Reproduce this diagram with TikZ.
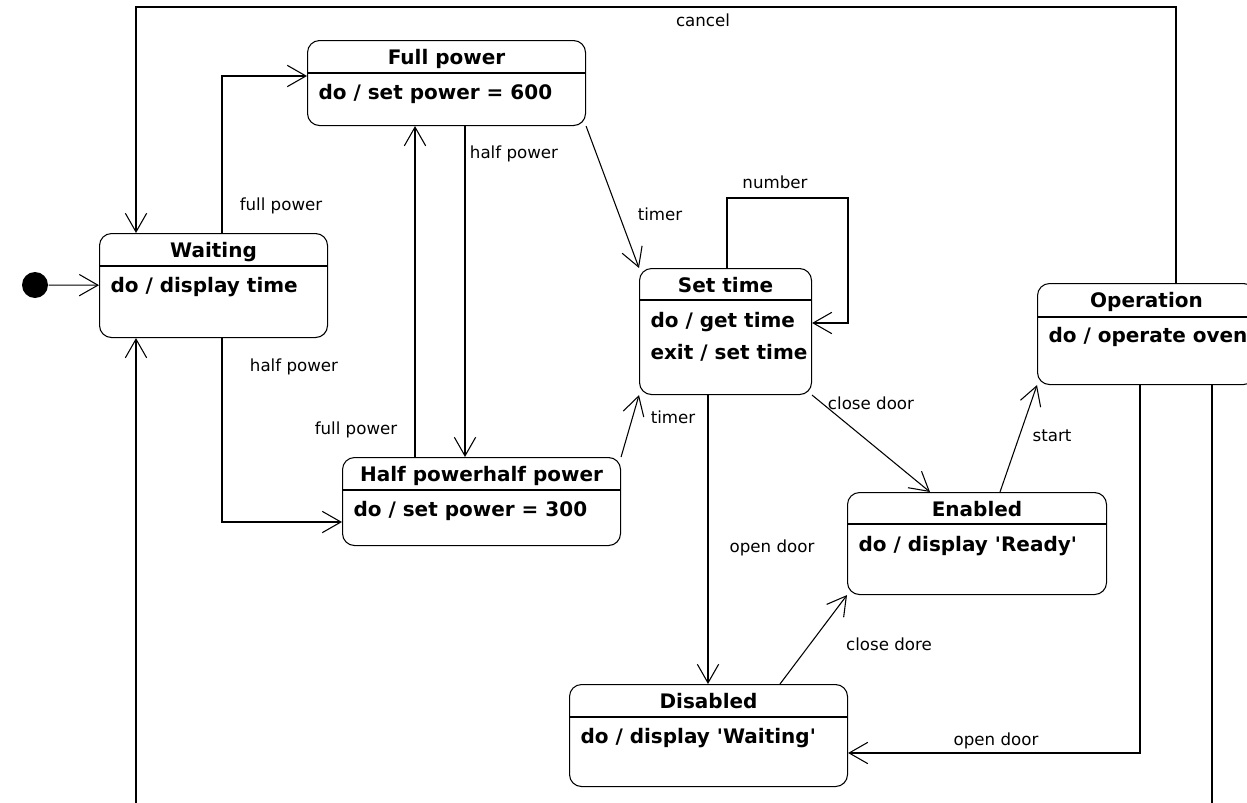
\documentclass[tikz,border=0pt]{standalone}
\usepackage{fontspec}
\setmainfont{DejaVu Sans}
\usetikzlibrary{arrows.meta, positioning}

\tikzset{
  state/.style={draw, rounded corners=9pt, anchor=north west, inner sep=0pt},
  ttl/.style={font=\fontsize{15}{18}\selectfont\bfseries, anchor=base, inner sep=0pt},
  act/.style={font=\fontsize{15}{18}\selectfont\bfseries, anchor=base west, inner sep=0pt},
  lbl/.style={font=\fontsize{12.5}{15}\selectfont, inner sep=0pt},
  tr/.style={-{Straight Barb[length=14pt,width=16pt]}},
}

\begin{document}
\begin{tikzpicture}[x=0.75pt, y=-0.75pt, line width=0.8pt]
\useasboundingbox (0,0) rectangle (1247,803);

% states
\node[state, minimum width=171pt, minimum height=78pt] (wait) at (99,233) {};
\node[ttl] (wait-t) at ([yshift=-18pt]wait.north) {Waiting};
\draw ([yshift=-24.75pt]wait.north west) -- ([yshift=-24.75pt]wait.north east);
\node[act] (wait-b) at ([xshift=8.25pt,yshift=-44.25pt]wait.north west) {do / display time};

\node[state, minimum width=208.5pt, minimum height=63.75pt] (full) at (307,40) {};
\node[ttl] (full-t) at ([yshift=-18pt]full.north) {Full power};
\draw ([yshift=-24.75pt]full.north west) -- ([yshift=-24.75pt]full.north east);
\node[act] (full-b) at ([xshift=8.25pt,yshift=-44.25pt]full.north west) {do / set power = 600};

\node[state, minimum width=208.5pt, minimum height=66pt] (half) at (342,457) {};
\node[ttl] (half-t) at ([yshift=-18pt]half.north) {Half powerhalf power};
\draw ([yshift=-24.75pt]half.north west) -- ([yshift=-24.75pt]half.north east);
\node[act] (half-b) at ([xshift=8.25pt,yshift=-44.25pt]half.north west) {do / set power = 300};

\node[state, minimum width=129pt, minimum height=94.5pt] (set) at (639,268) {};
\node[ttl] (set-t) at ([yshift=-18pt]set.north) {Set time};
\draw ([yshift=-24pt]set.north west) -- ([yshift=-24pt]set.north east);
\node[act] (set-b1) at ([xshift=8.25pt,yshift=-44.25pt]set.north west) {do / get time};
\node[act] (set-b2) at ([xshift=8.25pt,yshift=-68.25pt]set.north west) {exit / set time};

\node[state, minimum width=163.5pt, minimum height=75.75pt] (oper) at (1037,283) {};
\node[ttl] (oper-t) at ([yshift=-18pt]oper.north) {Operation};
\draw ([yshift=-25.5pt]oper.north west) -- ([yshift=-25.5pt]oper.north east);
\node[act] (oper-b) at ([xshift=8.25pt,yshift=-44.25pt]oper.north west) {do / operate oven};

\node[state, minimum width=194.25pt, minimum height=76.5pt] (enab) at (847,492) {};
\node[ttl] (enab-t) at ([yshift=-18pt]enab.north) {Enabled};
\draw ([yshift=-24pt]enab.north west) -- ([yshift=-24pt]enab.north east);
\node[act] (enab-b) at ([xshift=8.25pt,yshift=-44.25pt]enab.north west) {do / display \textquotesingle Ready\textquotesingle};

\node[state, minimum width=208.5pt, minimum height=76.5pt] (dis) at (569,684) {};
\node[ttl] (dis-t) at ([yshift=-18pt]dis.north) {Disabled};
\draw ([yshift=-24.75pt]dis.north west) -- ([yshift=-24.75pt]dis.north east);
\node[act] (dis-b) at ([xshift=8.25pt,yshift=-44.25pt]dis.north west) {do / display \textquotesingle Waiting\textquotesingle};

\node[circle, fill, minimum size=19.5pt, inner sep=0pt] (init) at (35,285) {};

% transitions
\draw[tr] (init) -- (wait);
\draw[tr] (wait.north -| 222,0) |- (full.west |- 0,76);
\draw[tr] (wait.south -| 222,0) |- (half.west |- 0,522);
\draw[tr] (half.north -| 415,0) -- (full.south -| 415,0);
\draw[tr] (full.south -| 465,0) -- (half.north -| 465,0);
\draw[tr] (full.south east) -- (set.north west);
\draw[tr] (half.north east) -- (set.south west);
\draw[tr] (set.north -| 727,0) |- (848,198) |- (set.east |- 0,323);
\draw[tr] (set.south -| 708,0) -- (dis.north -| 708,0);
\draw[tr] (set.south east) -- (enab.north -| 930,0);
\draw[tr] (enab.north -| 1000,0) -- (oper.south west);
\draw[tr] (dis.north -| 780,0) -- (enab.south west);
\draw[tr] (oper.south -| 1140,0) |- (dis.east |- 0,753);
\draw[tr] (oper.north -| 1176,0) |- (136,7) -- (wait.north -| 136,0);
\draw[tr] (oper.south -| 1212,0) |- (136,815) -- (wait.south -| 136,0);

% labels
\node[lbl] (l-cancel) at (703,20) {cancel};
\node[lbl] (l-wf) at (281,206) {full power};
\node[lbl] (l-wh) at (294,367) {half power};
\node[lbl] (l-hf) at (356,430) {full power};
\node[lbl] (l-fh) at (514,154) {half power};
\node[lbl] (l-ft) at (660,214) {timer};
\node[lbl] (l-ht) at (673,417) {timer};
\node[lbl] (l-num) at (775,182) {number};
\node[lbl] (l-sd) at (772,548) {open door};
\node[lbl] (l-se) at (871,403) {close door};
\node[lbl] (l-start) at (1052,436) {start};
\node[lbl] (l-de) at (889,644) {close dore};
\node[lbl] (l-od) at (996,741) {open door};
\end{tikzpicture}
\end{document}
